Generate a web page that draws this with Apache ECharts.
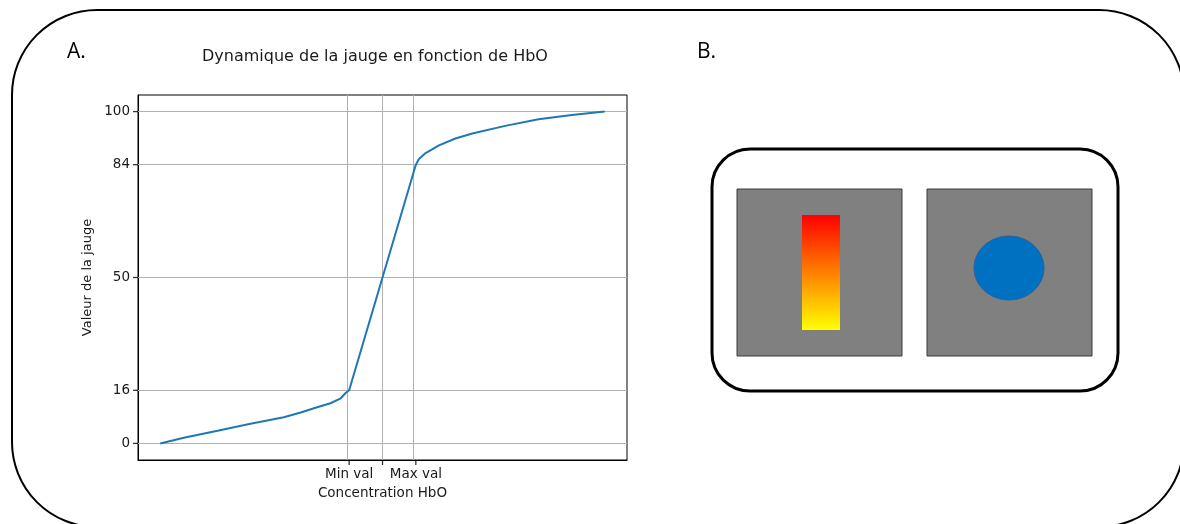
<!DOCTYPE html>
<html>
<head>
<meta charset="utf-8">
<script src="https://cdn.jsdelivr.net/npm/echarts@6/dist/echarts.min.js"></script>
<style>
  html, body { margin: 0; padding: 0; background: #fff; }
  #main { width: 1180px; height: 524px; }
</style>
</head>
<body>
<div id="main"></div>
<script>
// courbe de la jauge
var gaugeX = [0, 0.053, 0.129, 0.203, 0.278, 0.316, 0.353, 0.383, 0.406, 0.417, 0.425,
              0.575, 0.582, 0.597, 0.627, 0.664, 0.702, 0.776, 0.851, 0.926, 1.0];
var gaugeY = [0, 1.7, 3.8, 5.9, 7.9, 9.3, 10.9, 12.1, 13.6, 15.2, 16,
              84, 85.7, 87.5, 89.8, 91.9, 93.4, 95.7, 97.7, 99.0, 100];

// graduations
var yTicks = [0, 16, 50, 84, 100];
var xTicks = [0.425, 0.5, 0.575];
var xTickLabels = ['Min val', '', 'Max val'];
var xMin = -0.05, xMax = 1.05;
var yMin = -5, yMax = 105;

var data = [];
for (var i = 0; i < gaugeX.length; i++) {
    data.push([gaugeX[i], gaugeY[i]]);
}

var gridLines = [];
yTicks.forEach(function (v) { gridLines.push({ yAxis: v }); });
xTicks.forEach(function (v) { gridLines.push({ xAxis: v }); });

// petits traits de graduation (hors du cadre)
var yTickMarks = yTicks.map(function (v) { return [xMin, v]; });
var xTickMarks = xTicks.map(function (v) { return [v, yMin]; });

var chart = echarts.init(document.getElementById('main'));
var font = 'DejaVu Sans';
var txt = '#1a1a1a';

chart.setOption({
    animation: false,
    grid: {
        left: 138,
        top: 95,
        width: 489,
        height: 365,
        show: true,
        borderColor: '#000',
        borderWidth: 1,
        backgroundColor: 'transparent'
    },
    xAxis: {
        type: 'value',
        min: xMin,
        max: xMax,
        name: 'Concentration HbO',
        nameLocation: 'middle',
        nameGap: 26,
        nameTextStyle: { fontFamily: font, fontSize: 13.5, color: txt },
        axisLine: { show: true, onZero: false, lineStyle: { color: '#000', width: 1 } },
        splitLine: { show: false },
        axisTick: { show: false },
        axisLabel: {
            customValues: xTicks,
            margin: 7,
            fontFamily: font,
            fontSize: 13.5,
            color: txt,
            formatter: function (v) {
                for (var k = 0; k < xTicks.length; k++) {
                    if (Math.abs(xTicks[k] - v) < 1e-6) return xTickLabels[k];
                }
                return '';
            }
        }
    },
    yAxis: {
        type: 'value',
        min: yMin,
        max: yMax,
        name: 'Valeur de la jauge',
        nameLocation: 'middle',
        nameGap: 44,
        nameRotate: 90,
        nameTextStyle: { fontFamily: font, fontSize: 13, color: txt },
        axisLine: { show: true, onZero: false, lineStyle: { color: '#000', width: 1 } },
        splitLine: { show: false },
        axisTick: { show: false },
        axisLabel: {
            customValues: yTicks,
            margin: 8,
            fontFamily: font,
            fontSize: 13.5,
            color: txt
        }
    },
    series: [{
        type: 'line',
        data: data,
        showSymbol: false,
        smooth: false,
        lineStyle: { color: '#1f77b4', width: 2 },
        z: 3,
        markLine: {
            silent: true,
            symbol: ['none', 'none'],
            label: { show: false },
            z: 1,
            lineStyle: { color: '#b0b0b0', width: 1, type: 'solid' },
            data: gridLines
        }
    }, {
        type: 'scatter',
        data: yTickMarks,
        silent: true,
        clip: false,
        symbol: 'rect',
        symbolSize: [5, 1.3],
        symbolOffset: [-2.5, 0],
        itemStyle: { color: '#000' },
        z: 4
    }, {
        type: 'scatter',
        data: xTickMarks,
        silent: true,
        clip: false,
        symbol: 'rect',
        symbolSize: [1.3, 5],
        symbolOffset: [0, 2.5],
        itemStyle: { color: '#000' },
        z: 4
    }],
    graphic: [
        {
            type: 'rect',
            shape: { x: 12, y: 10, width: 1172, height: 517, r: 85 },
            style: { fill: 'none', stroke: '#000', lineWidth: 2 }
        },
        {
            type: 'text',
            x: 67, y: 52,
            style: { text: 'A.', fontFamily: 'Open Sans', fontSize: 21, fill: '#000', verticalAlign: 'middle' }
        },
        {
            type: 'text',
            x: 697, y: 52,
            style: { text: 'B.', fontFamily: 'Open Sans', fontSize: 21, fill: '#000', verticalAlign: 'middle' }
        },
        {
            type: 'text',
            x: 375, y: 57,
            style: {
                text: 'Dynamique de la jauge en fonction de HbO',
                fontFamily: font, fontSize: 16, fill: txt,
                align: 'center', verticalAlign: 'middle'
            }
        },
        {
            type: 'rect',
            shape: { x: 712, y: 149, width: 406, height: 242, r: 38 },
            style: { fill: '#fff', stroke: '#000', lineWidth: 3 }
        },
        {
            type: 'rect',
            shape: { x: 737, y: 189, width: 165, height: 167 },
            style: { fill: '#808080', stroke: '#3a3a3a', lineWidth: 1 }
        },
        {
            type: 'rect',
            shape: { x: 927, y: 189, width: 165, height: 167 },
            style: { fill: '#808080', stroke: '#3a3a3a', lineWidth: 1 }
        },
        {
            type: 'rect',
            shape: { x: 802, y: 215, width: 38, height: 115 },
            style: {
                fill: new echarts.graphic.LinearGradient(0, 0, 0, 1, [
                    { offset: 0, color: '#ff0000' },
                    { offset: 0.5, color: '#ff8000' },
                    { offset: 1, color: '#ffff00' }
                ])
            }
        },
        {
            type: 'ellipse',
            shape: { cx: 1009, cy: 268, rx: 35, ry: 32 },
            style: { fill: '#0070c0', stroke: '#2b62a0', lineWidth: 1 }
        }
    ]
});
</script>
</body>
</html>
